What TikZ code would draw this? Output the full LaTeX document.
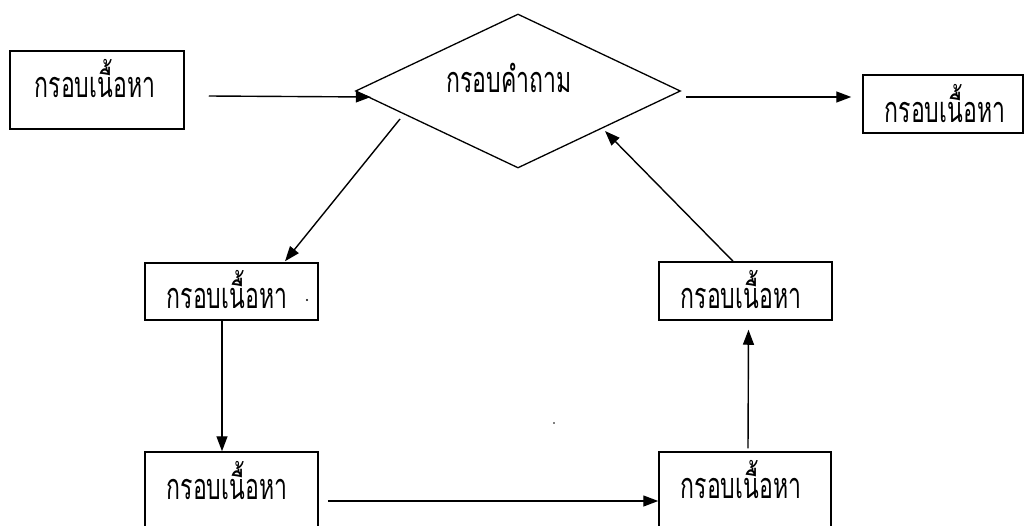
\documentclass[tikz,border=0pt]{standalone}
\usepackage{fontspec}
\newfontfamily\thaifont[Script=Thai,FakeStretch=0.64]{Loma}
\usetikzlibrary{shapes.geometric,arrows.meta}
\tikzset{
  frame/.style={draw, line width=1.5pt, rectangle, inner sep=0pt},
  decision/.style={draw, line width=1.3pt, diamond, inner sep=0pt},
  caption/.style={anchor=base, inner sep=0pt, font=\thaifont\fontsize{36}{40}\selectfont},
  flow/.style={line width=1.4pt, -{Triangle[length=15pt,width=11pt]}},
}
\begin{document}
\begin{tikzpicture}[x=1pt,y=-1pt]
  \useasboundingbox (0,0) rectangle (1025,525);
  \clip (0,0) rectangle (1025,525);

  % frames and the question diamond
  \node[frame, minimum width=174pt, minimum height=78pt] (b1) at (97,90) {};
  \node[decision, minimum width=325pt, minimum height=154pt] (d) at (518,91) {};
  \node[frame, minimum width=160pt, minimum height=58pt] (b2) at (943,104) {};
  \node[frame, minimum width=173pt, minimum height=57pt] (b3) at (231.5,291.5) {};
  \node[frame, minimum width=173pt, minimum height=78pt] (b4) at (231.5,491) {};
  \node[frame, minimum width=172pt, minimum height=78pt] (b5) at (745,491) {};
  \node[frame, minimum width=173pt, minimum height=58pt] (b6) at (745.5,291) {};

  % captions
  \node[caption] (t1) at (95,97) {กรอบเนื้อหา};
  \node[caption] (td) at (509,92) {กรอบคำถาม};
  \node[caption] (t2) at (945,122) {กรอบเนื้อหา};
  \node[caption] (t3) at (227,308) {กรอบเนื้อหา};
  \node[caption] (t4) at (227,499) {กรอบเนื้อหา};
  \node[caption] (t5) at (741,498) {กรอบเนื้อหา};
  \node[caption] (t6) at (741,308) {กรอบเนื้อหา};

  % stray marks
  \fill (307,300) circle (1.2pt);
  \fill (554,423) circle (0.9pt);

  % connectors
  \draw[flow] ([xshift=24pt,yshift=-6pt]b1.east) -- ([xshift=16pt,yshift=-6pt]d.west);
  \draw[flow] ([xshift=5pt,yshift=-6pt]d.east) -- ([xshift=-11pt,yshift=7pt]b2.west);
  \draw[flow] ([xshift=-118pt,yshift=-28pt]d.center) -- ([xshift=53.5pt,yshift=1pt]b3.north);
  \draw[flow] ([xshift=-9.5pt]b3.south) -- ([xshift=-9.5pt]b4.north);
  \draw[flow] ([xshift=9pt,yshift=-10pt]b4.east) -- ([yshift=-10pt]b5.west);
  \draw[flow] ([xshift=3pt,yshift=3pt]b5.north) -- ([xshift=3pt,yshift=-9pt]b6.south);
  \draw[flow] ([xshift=-12.5pt]b6.north) -- ([xshift=87pt,yshift=-40pt]d.center);
\end{tikzpicture}
\end{document}
